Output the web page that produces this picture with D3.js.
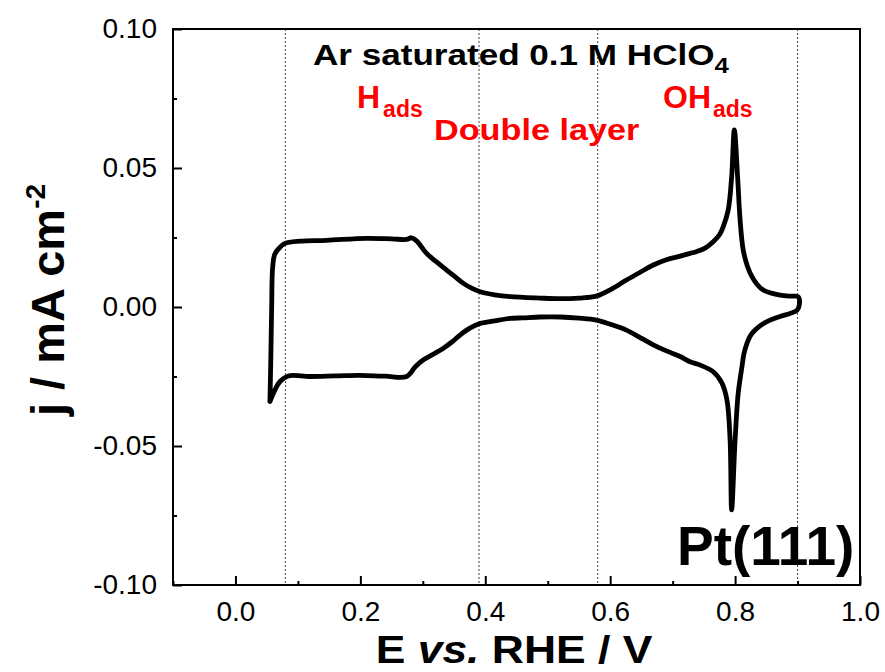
<!DOCTYPE html>
<html>
<head>
<meta charset="utf-8">
<script src="https://cdn.jsdelivr.net/npm/d3@7"></script>
<style>
  html, body { margin: 0; padding: 0; background: #ffffff; }
  svg { display: block; }
  text { font-family: "Liberation Sans", Arial, sans-serif; }
</style>
</head>
<body>
<svg id="chart" width="885" height="672"></svg>
<script>
// Cyclic voltammogram of Pt(111) in Ar-saturated 0.1 M HClO4
// Positive-going (anodic) scan: potential (V vs. RHE) and current density (mA cm^-2)
const anodicE = [0.0552, 0.0565, 0.0580, 0.0595, 0.0630, 0.0713, 0.0793, 0.1033, 0.146, 0.210,
  0.250, 0.274, 0.282, 0.290, 0.306, 0.322, 0.338, 0.352, 0.365, 0.378,
  0.392, 0.415, 0.440, 0.488, 0.520, 0.550, 0.578, 0.600, 0.626, 0.648,
  0.669, 0.690, 0.712, 0.728, 0.738, 0.752, 0.765, 0.775, 0.781, 0.789,
  0.7945, 0.7988, 0.804, 0.808, 0.813, 0.820, 0.827, 0.835, 0.845, 0.858,
  0.872, 0.888, 0.901];
const anodicJ = [-0.034, -0.020, 0.000, 0.0140, 0.0190, 0.0215, 0.0229, 0.0237, 0.0240, 0.0247,
  0.0245, 0.0243, 0.0249, 0.0238, 0.0193, 0.0162, 0.0133, 0.0108, 0.0085, 0.0068,
  0.0055, 0.0044, 0.0037, 0.0032, 0.0030, 0.0032, 0.0039, 0.0062, 0.0097, 0.0125,
  0.0151, 0.0170, 0.0183, 0.0193, 0.0199, 0.0212, 0.0235, 0.0260, 0.0289, 0.0349,
  0.0469, 0.0637, 0.0469, 0.0313, 0.0205, 0.0145, 0.0109, 0.0082, 0.0061, 0.0050,
  0.0043, 0.0039, 0.0037];

// Negative-going (cathodic) scan
const cathodicE = [0.9030, 0.8990, 0.888, 0.872, 0.856, 0.843, 0.832, 0.824, 0.819, 0.814,
  0.811, 0.805, 0.800, 0.7945, 0.792, 0.787, 0.779, 0.765, 0.744, 0.728,
  0.712, 0.690, 0.669, 0.648, 0.626, 0.600, 0.578, 0.550, 0.520, 0.488,
  0.460, 0.440, 0.415, 0.392, 0.376, 0.360, 0.347, 0.333, 0.318, 0.301,
  0.288, 0.274, 0.240, 0.199, 0.160, 0.119, 0.0846, 0.0713, 0.0633, 0.0552];
const cathodicJ = [0.0010, -0.0012, -0.0023, -0.0034, -0.0047, -0.0063, -0.0083, -0.0105, -0.0131, -0.0170,
  -0.0215, -0.0310, -0.0478, -0.0730, -0.0478, -0.0335, -0.0274, -0.0233, -0.0209, -0.0197,
  -0.0178, -0.0158, -0.0136, -0.0110, -0.0083, -0.0062, -0.0047, -0.0040, -0.0036, -0.0036,
  -0.0039, -0.0041, -0.0050, -0.0059, -0.0075, -0.0100, -0.0125, -0.0148, -0.0168, -0.0190,
  -0.0215, -0.0250, -0.0249, -0.0246, -0.0248, -0.0250, -0.0248, -0.0268, -0.0298, -0.0340];

// Region boundaries (dotted guide lines), V vs. RHE
const regionBounds = [0.08, 0.39, 0.58, 0.90];

// Axis ticks
const xMajorTicks = [0.0, 0.2, 0.4, 0.6, 0.8, 1.0];
const xMinorTicks = [-0.1, 0.1, 0.3, 0.5, 0.7, 0.9];
const yMajorTicks = [-0.10, -0.05, 0.00, 0.05, 0.10];
const yMinorTicks = [-0.075, -0.025, 0.025, 0.075];

const svg = d3.select("#chart");
const plotLeft = 173, plotRight = 860, plotTop = 29, plotBottom = 585;

const x = d3.scaleLinear().domain([-0.1, 1.0]).range([plotLeft, plotRight]);
const y = d3.scaleLinear().domain([-0.10, 0.10]).range([plotBottom, plotTop]);

// Dotted region separators
svg.append("g")
  .selectAll("line")
  .data(regionBounds)
  .join("line")
  .attr("x1", d => x(d)).attr("x2", d => x(d))
  .attr("y1", plotTop).attr("y2", plotBottom)
  .attr("stroke", "#444")
  .attr("stroke-width", 1)
  .attr("stroke-dasharray", "2,2");

// Axes (ticks pointing inward)
const axisFont = "28px";
const xAxis = svg.append("g").attr("transform", `translate(0,${plotBottom})`)
  .call(d3.axisBottom(x).tickValues(xMajorTicks).tickSize(-9).tickPadding(16)
    .tickFormat(d => d.toFixed(1)));
const xMinor = svg.append("g").attr("transform", `translate(0,${plotBottom})`)
  .call(d3.axisBottom(x).tickValues(xMinorTicks).tickSize(-4).tickFormat(""));
const yAxis = svg.append("g").attr("transform", `translate(${plotLeft},0)`)
  .call(d3.axisLeft(y).tickValues(yMajorTicks).tickSize(-9).tickPadding(16)
    .tickFormat(d => (Math.abs(d) < 1e-9 ? 0 : d).toFixed(2)));
const yMinor = svg.append("g").attr("transform", `translate(${plotLeft},0)`)
  .call(d3.axisLeft(y).tickValues(yMinorTicks).tickSize(-4).tickFormat(""));

[xAxis, xMinor, yAxis, yMinor].forEach(g => {
  g.select(".domain").remove();
  g.selectAll(".tick line").attr("stroke", "#000").attr("stroke-width", 2);
  g.selectAll(".tick text")
    .attr("fill", "#000")
    .style("font-family", "'Liberation Sans', Arial, sans-serif")
    .style("font-size", axisFont);
});

// Plot frame
svg.append("rect")
  .attr("x", plotLeft).attr("y", plotTop)
  .attr("width", plotRight - plotLeft).attr("height", plotBottom - plotTop)
  .attr("fill", "none")
  .attr("stroke", "#000")
  .attr("stroke-width", 2);

// CV trace: anodic sweep followed by cathodic sweep
const anodic = anodicE.map((e, i) => [e, anodicJ[i]]);
const cathodic = cathodicE.map((e, i) => [e, cathodicJ[i]]);
const trace = anodic.concat(cathodic);

const line = d3.line()
  .x(d => x(d[0]))
  .y(d => y(d[1]))
  .curve(d3.curveCatmullRom.alpha(0.5));

svg.append("path")
  .datum(trace)
  .attr("d", line)
  .attr("fill", "none")
  .attr("stroke", "#000")
  .attr("stroke-width", 4.8)
  .attr("stroke-linejoin", "round")
  .attr("stroke-linecap", "round");

// Electrolyte title
const title = svg.append("g").attr("transform", "translate(313,65) scale(1.17,1)")
  .append("text")
  .attr("font-size", 30).attr("font-weight", "bold").attr("fill", "#000");
title.append("tspan").text("Ar saturated 0.1 M HClO");
title.append("tspan").attr("font-size", 22).attr("dy", 8).text("4");

// Region labels
const hLab = svg.append("text").attr("x", 357).attr("y", 108)
  .attr("font-size", 32).attr("font-weight", "bold").attr("fill", "#ff0000");
hLab.append("tspan").text("H");
hLab.append("tspan").attr("font-size", 23).attr("dx", 3).attr("dy", 9).text("ads");

svg.append("g").attr("transform", "translate(434,140) scale(1.18,1)")
  .append("text")
  .attr("font-size", 29).attr("font-weight", "bold").attr("fill", "#ff0000")
  .text("Double layer");

const ohLab = svg.append("text").attr("x", 663).attr("y", 108)
  .attr("font-size", 32).attr("font-weight", "bold").attr("fill", "#ff0000");
ohLab.append("tspan").text("OH");
ohLab.append("tspan").attr("font-size", 23).attr("dx", 2).attr("dy", 9).text("ads");

// Electrode label
svg.append("text").attr("x", 677).attr("y", 565)
  .attr("font-size", 55).attr("font-weight", "bold").attr("fill", "#000")
  .text("Pt(111)");

// Axis titles
const xt = svg.append("g").attr("transform", "translate(514,663) scale(1.17,1)")
  .append("text")
  .attr("text-anchor", "middle")
  .attr("font-size", 38).attr("font-weight", "bold").attr("fill", "#000");
xt.append("tspan").text("E ");
xt.append("tspan").attr("font-style", "italic").text("vs.");
xt.append("tspan").text(" RHE / V");

const yt = svg.append("g").attr("transform", "translate(64,300) rotate(-90)")
  .append("text")
  .attr("text-anchor", "middle")
  .attr("font-size", 47).attr("font-weight", "bold").attr("fill", "#000");
yt.append("tspan").text("j / mA cm");
yt.append("tspan").attr("font-size", 28).attr("dy", -19).text("-2");
</script>
</body>
</html>
